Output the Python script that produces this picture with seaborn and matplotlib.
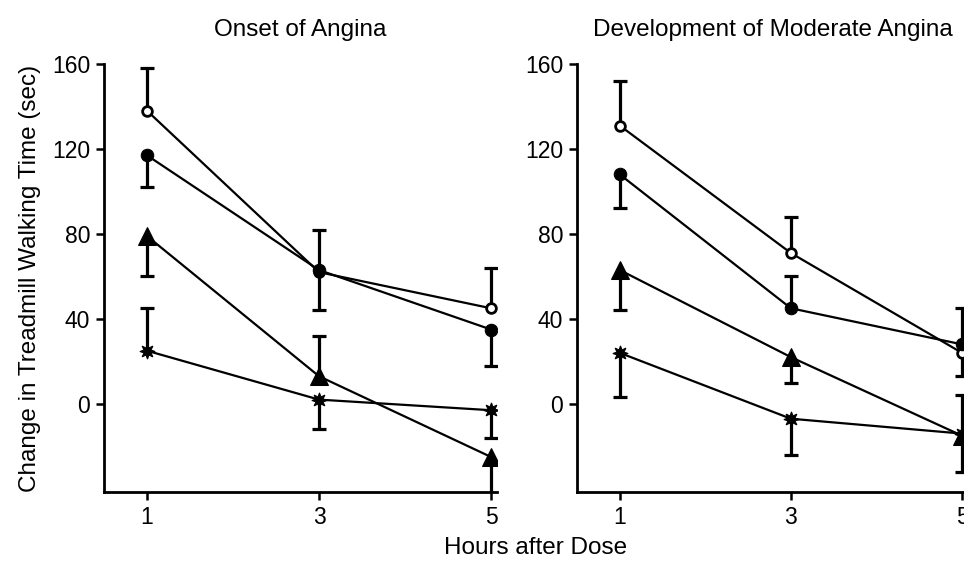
import matplotlib
matplotlib.use("Agg")
import matplotlib.pyplot as plt
import seaborn as sns
import pandas as pd

hours = [1, 3, 5]

# Onset of Angina
onset_open = [138, 62, 45]
onset_open_err = [158, 44, 64]
onset_filled = [117, 63, 35]
onset_filled_err = [102, 82, 18]
onset_tri = [79, 13, -25]
onset_tri_err = [60, 32, -45]
onset_star = [25, 2, -3]
onset_star_err = [45, -12, -16]

# Development of Moderate Angina
mod_open = [131, 71, 24]
mod_open_err = [152, 88, 13]
mod_filled = [108, 45, 28]
mod_filled_err = [92, 60, 45]
mod_tri = [63, 22, -15]
mod_tri_err = [44, 10, -32]
mod_star = [24, -7, -14]
mod_star_err = [3, -24, 4]

titles = ["Onset of Angina", "Development of Moderate Angina"]
y_ticks = [0, 40, 80, 120, 160]
ylabel = "Change in Treadmill Walking Time (sec)"
xlabel = "Hours after Dose"

sns.set_style("ticks")
plt.rcParams["font.family"] = ["Liberation Sans", "DejaVu Sans"]
plt.rcParams["text.color"] = "black"
plt.rcParams["axes.labelcolor"] = "black"
plt.rcParams["xtick.color"] = "black"
plt.rcParams["ytick.color"] = "black"

FS = 17.5

fig = plt.figure(figsize=(9.64, 5.62), dpi=100)
ax1 = fig.add_axes([104 / 964, 70 / 562, 393 / 964, 428 / 562])
ax2 = fig.add_axes([577 / 964, 70 / 562, 391 / 964, 428 / 562])

styles = {
    "open": dict(marker="o", markersize=7, markerfacecolor="white",
                 markeredgecolor="black", markeredgewidth=2),
    "filled": dict(marker="o", markersize=9, markerfacecolor="black",
                   markeredgecolor="black"),
    "tri": dict(marker="^", markersize=13, markerfacecolor="black",
                markeredgecolor="black"),
    "star": dict(marker=(8, 1, 0), markersize=11, markerfacecolor="black",
                 markeredgecolor="black"),
}

panels = [
    (ax1, [("open", onset_open, onset_open_err),
           ("filled", onset_filled, onset_filled_err),
           ("tri", onset_tri, onset_tri_err),
           ("star", onset_star, onset_star_err)]),
    (ax2, [("open", mod_open, mod_open_err),
           ("filled", mod_filled, mod_filled_err),
           ("tri", mod_tri, mod_tri_err),
           ("star", mod_star, mod_star_err)]),
]

for i, (ax, series) in enumerate(panels):
    for name, vals, ends in series:
        # one-sided error bars
        ax.vlines(hours, vals, ends, colors="black", linewidth=2.3, zorder=1)
        ax.plot(hours, ends, linestyle="none", marker="_", markersize=10,
                markeredgewidth=2.3, color="black", zorder=1)
        df = pd.DataFrame({"hour": hours, "value": vals})
        sns.lineplot(data=df, x="hour", y="value", ax=ax, color="black",
                     linewidth=1.6, zorder=3, legend=False, **styles[name])
    ax.set_xlim(0.5, 5.07)
    ax.set_ylim(-41.5, 160)
    ax.set_xticks(hours)
    ax.set_yticks(y_ticks)
    ax.set_xlabel("")
    ax.set_ylabel("")
    ax.set_title(titles[i], fontsize=FS, pad=20, color="black")
    for side in ["top", "right"]:
        ax.spines[side].set_visible(False)
    for side in ["left", "bottom"]:
        ax.spines[side].set_linewidth(2)
        ax.spines[side].set_color("black")
    ax.tick_params(axis="both", labelsize=FS - 1, length=6, width=1.8,
                   color="black", labelcolor="black", pad=4)

ax1.set_ylabel(ylabel, fontsize=FS, labelpad=8, color="black")
fig.text(536 / 964, 1 - 548 / 562, xlabel, ha="center", va="center",
         fontsize=FS, color="black")

fig.savefig("out.png", dpi=100)
